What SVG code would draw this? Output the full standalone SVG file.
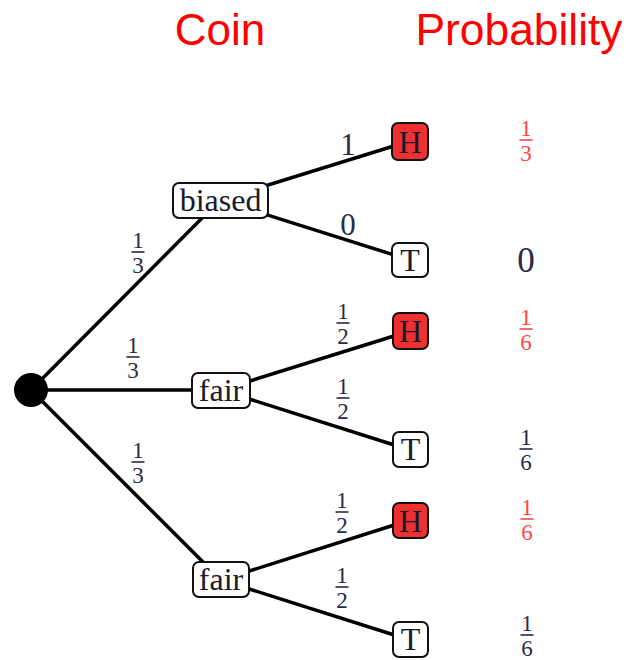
<svg xmlns="http://www.w3.org/2000/svg" width="626" height="660" viewBox="0 0 626 660" style="color:#2a2a44">
<style>
.title{font-family:"Liberation Sans",Arial,sans-serif;font-size:44px;fill:#ff0000;text-anchor:middle}
.edge{stroke:#000;stroke-width:3.5;fill:none}
.box{fill:#fff;stroke:#111;stroke-width:2}
.hbox{fill:#ee3030;stroke:#111;stroke-width:2}
.nt{font-family:"Liberation Serif","Times New Roman",serif;font-size:32px;fill:#1a1a2a;text-anchor:middle}
.lbl{font-family:"Liberation Serif","Times New Roman",serif;font-size:31px;fill:#2a2a44;text-anchor:middle}
.fr{font-family:"Liberation Serif","Times New Roman",serif;font-size:23px;fill:currentColor;text-anchor:middle}
.bar{stroke:currentColor;stroke-width:1.6}
.red{color:#ff4545}
</style>
<defs>
<g id="half"><text class="fr" x="0" y="-4">1</text><line class="bar" x1="-6.5" y1="0" x2="6.5" y2="0"/><text class="fr" x="0" y="21">2</text></g>
<g id="third"><text class="fr" x="0" y="-4">1</text><line class="bar" x1="-6.5" y1="0" x2="6.5" y2="0"/><text class="fr" x="0" y="21">3</text></g>
<g id="sixth"><text class="fr" x="0" y="-4">1</text><line class="bar" x1="-6.5" y1="0" x2="6.5" y2="0"/><text class="fr" x="0" y="21">6</text></g>
</defs>
<text class="title" x="220" y="45">Coin</text>
<text class="title" x="519" y="45" textLength="207" lengthAdjust="spacingAndGlyphs">Probability</text>
<g id="connectors">
<line class="edge" x1="31" y1="390" x2="220" y2="200"/>
<line class="edge" x1="31" y1="390" x2="221" y2="390"/>
<line class="edge" x1="31" y1="390" x2="221" y2="580"/>
<line class="edge" x1="220" y1="200" x2="410" y2="141"/>
<line class="edge" x1="220" y1="200" x2="410" y2="260"/>
<line class="edge" x1="221" y1="390" x2="410" y2="331"/>
<line class="edge" x1="221" y1="390" x2="410" y2="450"/>
<line class="edge" x1="221" y1="580" x2="410" y2="520"/>
<line class="edge" x1="221" y1="580" x2="410" y2="640"/>
<use href="#third" x="138" y="252"/>
<use href="#third" x="133" y="357"/>
<use href="#third" x="138" y="462"/>
<text class="lbl" x="348" y="155">1</text>
<text class="lbl" x="348" y="235">0</text>
<use href="#half" x="343" y="323"/>
<use href="#half" x="343" y="398"/>
<use href="#half" x="342" y="512"/>
<use href="#half" x="342" y="587"/>
</g>
<g id="root"><circle cx="31" cy="390" r="17" fill="#000"/></g>
<g id="biased"><rect class="box" x="173" y="183" width="95" height="35" rx="6"/><text class="nt" x="220.5" y="211">biased</text></g>
<g id="fair1"><rect class="box" x="192" y="373" width="58" height="35" rx="6"/><text class="nt" x="221" y="401">fair</text></g>
<g id="fair2"><rect class="box" x="193" y="562" width="56" height="35" rx="6"/><text class="nt" x="221" y="590">fair</text></g>
<g id="h1"><rect class="hbox" x="392" y="123" width="36" height="37" rx="6"/><text class="nt" x="410" y="153">H</text></g>
<g id="t1"><rect class="box" x="392" y="243" width="36" height="34" rx="6"/><text class="nt" x="410" y="271">T</text></g>
<g id="h2"><rect class="hbox" x="393" y="313" width="35" height="36" rx="6"/><text class="nt" x="410.5" y="342">H</text></g>
<g id="t2"><rect class="box" x="393" y="432" width="35" height="35" rx="6"/><text class="nt" x="410.5" y="460">T</text></g>
<g id="h3"><rect class="hbox" x="393" y="503" width="35" height="35" rx="6"/><text class="nt" x="410.5" y="532">H</text></g>
<g id="t3"><rect class="box" x="393" y="622" width="35" height="35" rx="6"/><text class="nt" x="410.5" y="650">T</text></g>
<g id="probs">
<use class="red" href="#third" x="526" y="140"/>
<text class="lbl" x="526" y="272" style="font-size:35px">0</text>
<use class="red" href="#sixth" x="526" y="329"/>
<use href="#sixth" x="526" y="449"/>
<use class="red" href="#sixth" x="527" y="519"/>
<use href="#sixth" x="527" y="635"/>
</g>
</svg>
